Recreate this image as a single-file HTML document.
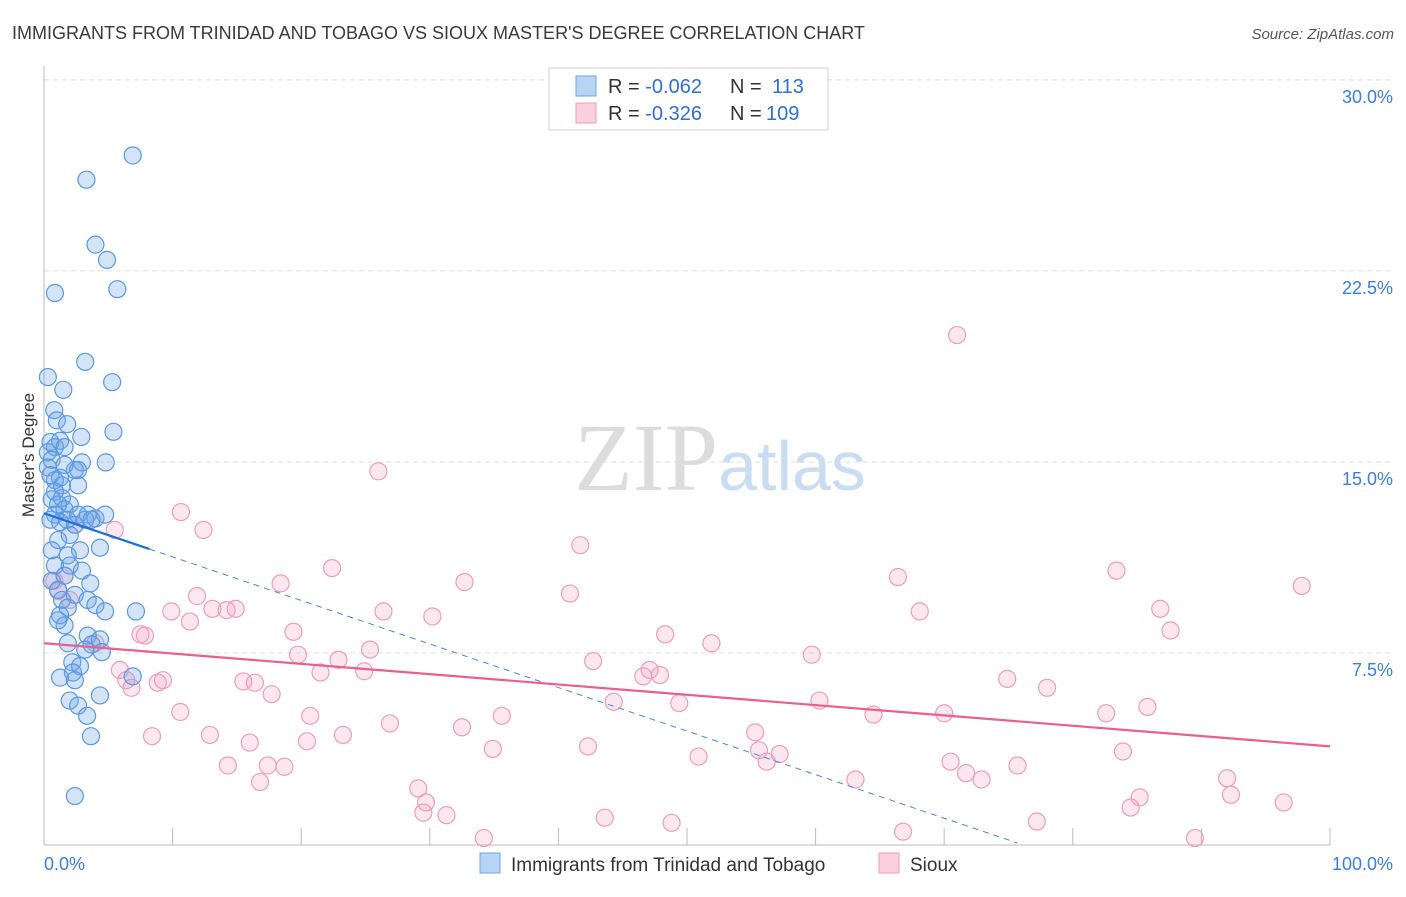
<!DOCTYPE html>
<html><head><meta charset="utf-8"><style>
body{margin:0;background:#fff;font-family:"Liberation Sans",sans-serif}
</style></head><body>
<svg id="chart" width="1406" height="892" viewBox="0 0 1406 892" xmlns="http://www.w3.org/2000/svg" font-family="Liberation Sans, sans-serif">
<text x="12" y="39" font-size="18" fill="#3a3a3a">IMMIGRANTS FROM TRINIDAD AND TOBAGO VS SIOUX MASTER'S DEGREE CORRELATION CHART</text>
<text x="1394" y="39" font-size="15" fill="#555" text-anchor="end" font-style="italic">Source: ZipAtlas.com</text>
<text x="720" y="490" font-size="96" text-anchor="middle" fill="#dcdcdc" font-family="Liberation Serif, serif">ZIP<tspan fill="#c8dcf2" font-family="Liberation Sans, sans-serif" font-size="70">atlas</tspan></text>
<text transform="translate(34,455) rotate(-90)" font-size="17" fill="#333" text-anchor="middle">Master's Degree</text>
<g id="grid"></g><g id="axes"></g><g id="pinkpts"></g><g id="bluepts"></g><g id="trends"></g>
<g>
<rect x="549" y="68" width="279" height="62" fill="#fff" stroke="#d0d0d0"/>
<rect x="576" y="76" width="20" height="20" fill="#b8d4f5" stroke="#6fa3e3"/>
<rect x="576" y="103" width="20" height="20" fill="#fbcfdd" stroke="#ee9db9"/>
<text x="608" y="93" font-size="20" fill="#333">R = <tspan fill="#2f6fd0">-0.062</tspan><tspan x="730">N = </tspan><tspan fill="#2f6fd0" x="772">113</tspan></text>
<text x="608" y="120" font-size="20" fill="#333">R = <tspan fill="#2f6fd0">-0.326</tspan><tspan x="730">N = </tspan><tspan fill="#2f6fd0" x="766">109</tspan></text>
</g>
<g>
<rect x="480" y="853" width="20" height="20" fill="#b8d4f5" stroke="#6fa3e3"/>
<text x="511" y="871" font-size="19" fill="#333">Immigrants from Trinidad and Tobago</text>
<rect x="879" y="853" width="20" height="20" fill="#fbcfdd" stroke="#ee9db9"/>
<text x="910" y="871" font-size="19" fill="#333">Sioux</text>
</g>
</svg>
<script>
const blueX=[6.9,3.3,4.0,4.9,0.85,5.7,3.2,5.3,0.3,1.5,0.8,1.0,1.8,5.4,2.9,1.25,0.5,0.85,0.3,1.6,0.6,0.3,2.95,4.8,2.4,1.25,0.85,1.4,2.65,0.85,0.6,1.4,2.0,1.6,0.85,1.8,2.65,3.4,4.0,4.75,2.4,1.25,3.2,3.7,2.0,1.1,0.6,2.8,4.35,1.85,2.0,0.85,2.95,0.6,1.6,3.6,1.1,2.4,1.4,3.4,4.0,1.85,1.25,4.75,1.6,1.1,1.85,3.4,4.35,3.7,3.2,4.5,2.2,2.8,1.25,6.9,2.25,2.4,2.0,2.65,4.35,3.35,3.65,2.4,1.6,0.5,1.1,0.5,2.65,7.15];
const blueY=[27.7,26.75,24.2,23.6,22.3,22.45,19.6,18.8,19.0,18.5,17.7,17.3,17.15,16.85,16.65,16.5,16.45,16.25,16.05,16.25,15.75,15.45,15.65,15.65,15.35,15.05,14.95,14.75,14.75,14.5,14.2,14.25,14.0,13.8,13.6,13.4,13.6,13.6,13.45,13.6,13.2,13.3,13.4,13.4,12.8,12.6,12.2,12.2,12.3,12.0,11.6,11.6,11.4,11.0,11.2,10.9,10.65,10.45,10.25,10.25,10.05,9.95,9.65,9.8,9.25,9.45,8.55,8.85,8.7,8.5,8.3,8.2,7.8,7.65,7.2,7.25,7.4,7.1,6.3,6.1,6.5,5.7,4.9,2.55,15.55,15.15,14.0,13.4,15.35,9.8];
const pinkX=[71.0,26.0,10.65,12.4,5.5,41.7,83.4,22.4,66.4,97.8,32.7,18.4,40.9,9.9,11.9,68.1,86.8,26.4,30.2,13.1,14.9,14.2,11.35,87.6,48.3,7.5,7.85,19.4,51.9,59.7,25.35,19.75,22.9,5.9,42.7,47.1,46.6,47.9,21.5,24.9,6.4,9.25,8.85,6.8,15.5,16.4,17.7,74.9,78.0,44.3,49.4,60.3,10.6,20.7,35.6,64.5,70.0,82.6,85.8,26.9,32.5,8.4,12.9,23.25,16.0,20.45,42.3,34.9,55.3,55.6,57.2,50.9,83.9,56.2,14.3,17.4,18.7,70.5,75.7,71.7,72.9,63.1,16.8,29.1,29.7,92.0,92.3,85.2,84.5,96.4,29.5,31.3,43.6,48.8,77.2,66.8,34.2,89.5,0.8,1.6,1.1,2.4,4.0,2.0];
const pinkY=[20.65,15.3,13.7,13.0,13.0,12.4,11.4,11.5,11.15,10.8,10.95,10.9,10.5,9.8,10.4,9.8,9.9,9.8,9.6,9.9,9.9,9.85,9.4,9.05,8.9,8.9,8.85,9.0,8.55,8.1,8.3,8.1,7.9,7.5,7.85,7.5,7.25,7.3,7.4,7.45,7.1,7.1,7.0,6.8,7.05,7.0,6.55,7.15,6.8,6.25,6.2,6.3,5.85,5.7,5.7,5.75,5.8,5.8,6.05,5.4,5.25,4.9,4.95,4.95,4.65,4.7,4.5,4.4,5.05,4.35,4.2,4.1,4.3,3.9,3.75,3.75,3.7,3.9,3.75,3.45,3.2,3.2,3.1,2.85,2.3,3.25,2.6,2.5,2.1,2.3,1.9,1.8,1.7,1.5,1.55,1.15,0.9,0.9,11.0,11.2,10.6,13.2,8.55,10.25];
const yTicks=[7.5,15.0,22.5,30.0];
const xTicks=[0,10,20,30,40,50,60,70,80,90,100];
const blueTrend=[13.65,-0.171]; // intercept, slope
const pinkTrend=[8.55,-0.0405];
const NS="http://www.w3.org/2000/svg";
const X0=44,X1=1330,Y0=861,KY=25.47;
function xs(v){return X0+(X1-X0)*v/100;}
function ys(v){return Y0-v*KY;}
function mk(parent,tag,attrs){const e=document.createElementNS(NS,tag);for(const k in attrs)e.setAttribute(k,attrs[k]);document.getElementById(parent).appendChild(e);return e;}
// axes
let e=mk('axes','line',{x1:X0,y1:66,x2:X0,y2:845,stroke:'#bbb'});


e=mk('axes','line',{x1:X0,y1:845,x2:X1,y2:845,stroke:'#bbb'});


xTicks.forEach(t=>{const l=mk('axes','line',{x1:xs(t),y1:828,x2:xs(t),y2:845,stroke:'#bbb'});

});
e=mk('axes','text',{x:44,y:870,'font-size':18,fill:'#3d7dd8'});e.textContent='0.0%';


e=mk('axes','text',{x:1393,y:870,'font-size':18,fill:'#3d7dd8','text-anchor':'end'});e.textContent='100.0%';


yTicks.forEach(t=>{const y=ys(t)-17;
const g=mk('grid','line',{x1:X0,y1:y,x2:1393,y2:y,stroke:'#ddd','stroke-dasharray':'5,4'});


const tx=mk('grid','text',{x:1393,y:y+23,'font-size':18,fill:'#3d7dd8','text-anchor':'end'});tx.textContent=t.toFixed(1)+'%';

});
pinkX.forEach((v,i)=>{const c=mk('pinkpts','circle',{cx:xs(v),cy:ys(pinkY[i]),r:8.5,fill:'rgba(244,160,190,0.25)',stroke:'#ee9db9','stroke-width':1.2});

});
blueX.forEach((v,i)=>{const c=mk('bluepts','circle',{cx:xs(v),cy:ys(blueY[i]),r:8.5,fill:'rgba(110,165,230,0.3)',stroke:'#5b97e0','stroke-width':1.2});

});
const bt=x=>blueTrend[0]+blueTrend[1]*x, pt=x=>pinkTrend[0]+pinkTrend[1]*x;
e=mk('trends','line',{x1:xs(0),y1:ys(bt(0)),x2:xs(8.2),y2:ys(bt(8.2)),stroke:'#1f6fd6','stroke-width':2.2});


e=mk('trends','line',{x1:xs(8.2),y1:ys(bt(8.2)),x2:xs(75.7),y2:ys(bt(75.7)),stroke:'#4a86d8','stroke-width':1,'stroke-dasharray':'6,5'});


e=mk('trends','line',{x1:xs(0),y1:ys(pt(0)),x2:xs(100),y2:ys(pt(100)),stroke:'#e8608f','stroke-width':2.2});


</script>
</body></html>
